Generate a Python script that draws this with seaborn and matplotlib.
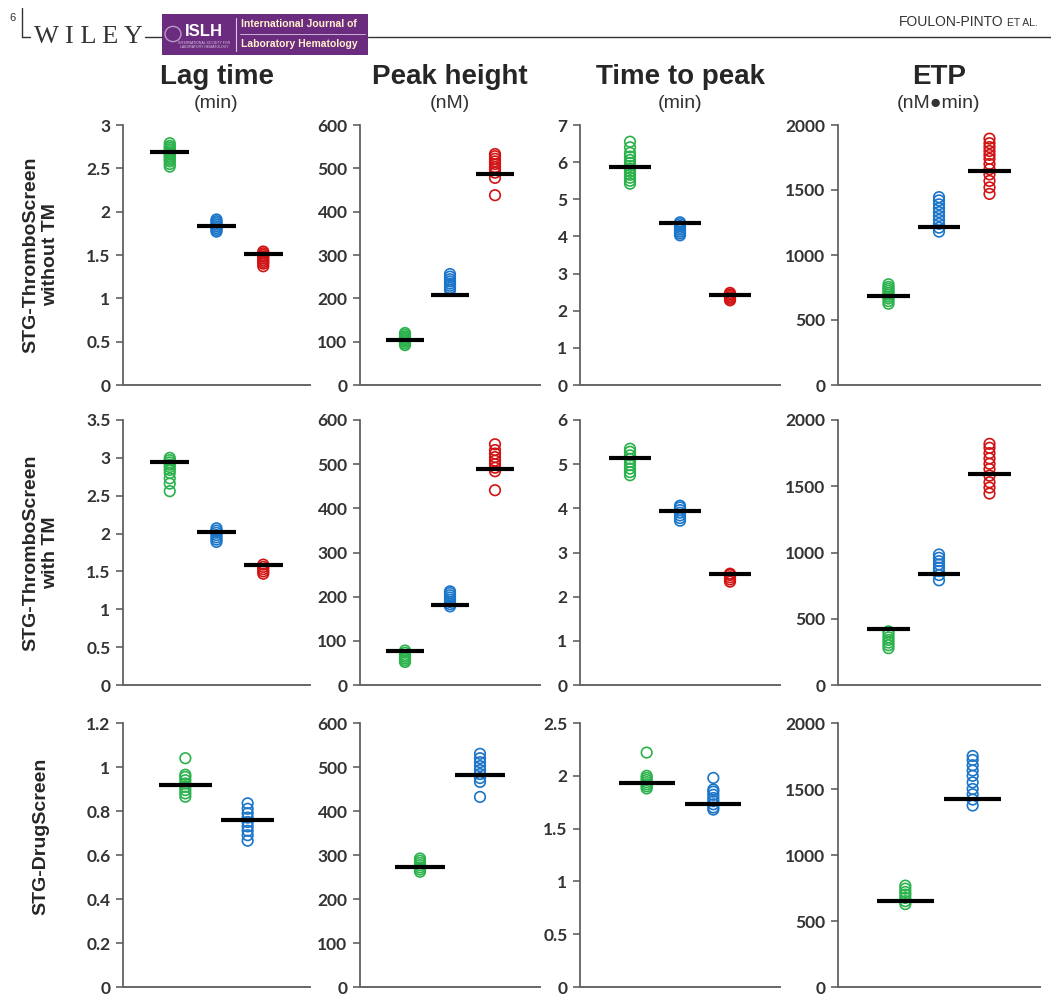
import numpy as np
import pandas as pd
import seaborn as sns
import matplotlib.pyplot as plt
from matplotlib.patches import Rectangle, Circle
from matplotlib.lines import Line2D

W, H = 1051, 999

groups = ["g1", "g2", "g3"]
colors = ["#2bb24c", "#1b75c9", "#d11313"]

col_titles = ["Lag time", "Peak height", "Time to peak", "ETP"]
col_units = ["(min)", "(nM)", "(min)", "(nM\u25cfmin)"]
row_titles = ["STG-ThromboScreen\nwithout TM", "STG-ThromboScreen\nwith TM", "STG-DrugScreen"]

# STG-ThromboScreen without TM
lag_wo = [[2.52, 2.55, 2.58, 2.60, 2.62, 2.64, 2.66, 2.68, 2.70, 2.72, 2.74, 2.76, 2.79],
          [1.77, 1.79, 1.81, 1.83, 1.85, 1.87, 1.89, 1.91],
          [1.37, 1.40, 1.42, 1.44, 1.46, 1.48, 1.50, 1.52, 1.54]]
lag_wo_mean = [2.69, 1.84, 1.51]
peak_wo = [[92, 96, 100, 103, 106, 109, 112, 116, 120],
           [219, 224, 229, 234, 239, 244, 250, 256],
           [438, 478, 490, 497, 503, 510, 516, 522, 528, 533]]
peak_wo_mean = [105, 208, 486]
ttp_wo = [[5.42, 5.50, 5.58, 5.66, 5.74, 5.82, 5.90, 5.98, 6.06, 6.15, 6.25, 6.40, 6.55],
          [4.03, 4.08, 4.13, 4.18, 4.23, 4.28, 4.33, 4.38],
          [2.28, 2.32, 2.36, 2.40, 2.44, 2.48]]
ttp_wo_mean = [5.88, 4.36, 2.41]
etp_wo = [[625, 645, 665, 680, 695, 710, 725, 740, 755, 775],
          [1180, 1210, 1240, 1270, 1300, 1330, 1360, 1390, 1420, 1445],
          [1470, 1520, 1570, 1620, 1660, 1700, 1740, 1770, 1800, 1830, 1860, 1895]]
etp_wo_mean = [685, 1219, 1644]

# STG-ThromboScreen with TM
lag_w = [[2.56, 2.66, 2.73, 2.80, 2.84, 2.88, 2.91, 2.94, 2.97, 3.00],
         [1.89, 1.92, 1.95, 1.98, 2.01, 2.04, 2.07],
         [1.47, 1.50, 1.53, 1.56, 1.59]]
lag_w_mean = [2.94, 2.02, 1.59]
peak_w = [[52, 56, 60, 64, 68, 73, 78],
          [178, 183, 188, 193, 198, 203, 208, 212],
          [441, 484, 492, 500, 508, 516, 524, 532, 545]]
peak_w_mean = [78, 182, 488]
ttp_w = [[4.75, 4.82, 4.90, 4.98, 5.05, 5.12, 5.20, 5.28, 5.35],
         [3.72, 3.78, 3.84, 3.90, 3.96, 4.02, 4.06],
         [2.34, 2.39, 2.44, 2.49, 2.52]]
ttp_w_mean = [5.14, 3.94, 2.52]
etp_w = [[278, 300, 320, 340, 360, 385, 405],
         [790, 830, 860, 885, 910, 935, 960, 985],
         [1445, 1490, 1530, 1580, 1630, 1670, 1710, 1750, 1790, 1820]]
etp_w_mean = [423, 841, 1594]

# STG-DrugScreen
lag_d = [[0.865, 0.88, 0.895, 0.91, 0.925, 0.94, 0.955, 0.965, 1.04],
         [0.665, 0.69, 0.71, 0.73, 0.75, 0.77, 0.79, 0.81, 0.835]]
lag_d_mean = [0.92, 0.758]
peak_d = [[262, 267, 272, 277, 282, 287, 292],
          [432, 466, 475, 484, 493, 502, 511, 520, 530]]
peak_d_mean = [272, 481]
ttp_d = [[1.88, 1.90, 1.92, 1.94, 1.96, 1.98, 2.00, 2.22],
         [1.68, 1.70, 1.73, 1.76, 1.79, 1.82, 1.85, 1.87, 1.98]]
ttp_d_mean = [1.935, 1.73]
etp_d = [[628, 650, 675, 700, 720, 745, 768],
         [1375, 1420, 1460, 1500, 1550, 1600, 1640, 1680, 1720, 1750]]
etp_d_mean = [655, 1428]

grid = [
    [(lag_wo, lag_wo_mean, 3, 0.5), (peak_wo, peak_wo_mean, 600, 100),
     (ttp_wo, ttp_wo_mean, 7, 1), (etp_wo, etp_wo_mean, 2000, 500)],
    [(lag_w, lag_w_mean, 3.5, 0.5), (peak_w, peak_w_mean, 600, 100),
     (ttp_w, ttp_w_mean, 6, 1), (etp_w, etp_w_mean, 2000, 500)],
    [(lag_d, lag_d_mean, 1.2, 0.2), (peak_d, peak_d_mean, 600, 100),
     (ttp_d, ttp_d_mean, 2.5, 0.5), (etp_d, etp_d_mean, 2000, 500)],
]

# pixel boxes of the axes
col_px = [(123, 310), (360, 540), (580, 780), (838, 1040)]
row_px = [(125, 385), (420, 685), (723, 987)]

sns.set_style("ticks")
plt.rcParams["font.family"] = ["Liberation Sans", "DejaVu Sans"]


def px(x, y):
    return x / W, 1 - y / H


def panel(ax, series, means, ymax, step):
    n = len(series)
    df = pd.DataFrame({"grp": [groups[i] for i, s in enumerate(series) for _ in s],
                       "val": [v for s in series for v in s]})
    sns.stripplot(data=df, x="grp", y="val", hue="grp", order=groups[:n],
                  hue_order=groups[:n], palette=colors[:n], jitter=False,
                  size=7.6, linewidth=1.2, legend=False, ax=ax)
    # open circles
    for coll in ax.collections:
        fc = coll.get_facecolors()
        coll.set_edgecolors(fc)
        coll.set_facecolors("none")
        coll.set_clip_on(False)
    xs = np.arange(n)
    ax.hlines(means, xs - 0.42, xs + 0.42, color="black", lw=3, zorder=5)
    ax.set_xlim(-1, n)
    ax.set_ylim(0, ymax)
    ticks = np.arange(0, ymax + step / 2, step)
    ax.set_yticks(ticks)
    ax.set_yticklabels([f"{round(t, 2):g}" for t in ticks],
                       fontfamily="Lato", fontweight="bold", fontsize=12.5, color="#333333")
    ax.set_xticks([])
    ax.set_xlabel("")
    ax.set_ylabel("")
    ax.tick_params(axis="y", length=5, width=1.1, color="#555555", pad=4)
    sns.despine(ax=ax)
    ax.spines["left"].set_color("#555555")
    ax.spines["bottom"].set_color("#666666")
    ax.spines["left"].set_linewidth(1.2)
    ax.spines["bottom"].set_linewidth(1.4)


fig = plt.figure(figsize=(W / 100, H / 100), dpi=100)

for r, row in enumerate(grid):
    y0, y1 = row_px[r]
    for c, (series, means, ymax, step) in enumerate(row):
        x0, x1 = col_px[c]
        ax = fig.add_axes([x0 / W, 1 - y1 / H, (x1 - x0) / W, (y1 - y0) / H])
        panel(ax, series, means, ymax, step)

# column headers
for c, (t, u) in enumerate(zip(col_titles, col_units)):
    cx = (col_px[c][0] + col_px[c][1]) / 2
    fig.text(*px(cx, 77), t, ha="center", va="center", fontsize=20, fontweight="bold")
    fig.text(*px(cx, 104), u, ha="center", va="center", fontsize=14, color="#333333")

# row headers
row_centers = [255, 553, 836]
for r, t in enumerate(row_titles):
    fig.text(*px(41, row_centers[r]), t, ha="center", va="center", rotation=90,
             fontsize=14, fontweight="bold", linespacing=1.2)

# journal header
line_kw = dict(color="#333333", lw=1.0, transform=fig.transFigure)
fig.add_artist(Line2D([px(22, 0)[0], px(22, 0)[0]], [px(0, 8)[1], px(0, 37)[1]], **line_kw))
fig.add_artist(Line2D([px(22, 0)[0], px(30, 0)[0]], [px(0, 37)[1]] * 2, **line_kw))
fig.add_artist(Line2D([px(145, 0)[0], px(162, 0)[0]], [px(0, 37)[1]] * 2, **line_kw))
fig.add_artist(Line2D([px(368, 0)[0], 1], [px(0, 37)[1]] * 2, **line_kw))
fig.text(*px(13, 18), "6", ha="center", va="center", fontsize=8, color="#333333")
fig.text(*px(88, 37), "W I L E Y", ha="center", va="center", fontsize=19,
         family="Liberation Serif", color="#333333")
bx0, by0 = px(162, 55)
fig.add_artist(Rectangle((bx0, by0), 206 / W, 41 / H, facecolor="#6b2c80",
                         edgecolor="none", transform=fig.transFigure))
fig.add_artist(Circle(px(173, 34), 8 / W, facecolor="none", edgecolor="#b89bc4",
                      lw=1, transform=fig.transFigure))
fig.text(*px(204, 31), "ISLH", ha="center", va="center", fontsize=12,
         fontweight="bold", color="white")
fig.text(*px(204, 45), "INTERNATIONAL SOCIETY FOR\nLABORATORY HEMATOLOGY", ha="center",
         va="center", fontsize=2.5, color="#d8c8e0", linespacing=1.0)
fig.add_artist(Line2D([px(236, 0)[0]] * 2, [px(0, 18)[1], px(0, 51)[1]],
                      color="#d8c8e0", lw=0.8, transform=fig.transFigure))
fig.text(*px(241, 24), "International Journal of", ha="left", va="center", fontsize=7.5,
         fontweight="bold", color="#fff2cc")
fig.add_artist(Line2D([px(240, 0)[0], px(365, 0)[0]], [px(0, 34)[1]] * 2,
                      color="#d8c8e0", lw=0.6, transform=fig.transFigure))
fig.text(*px(241, 44), "Laboratory Hematology", ha="left", va="center", fontsize=7.5,
         fontweight="bold", color="#fff2cc")
fig.text(*px(1004, 22), "FOULON-PINTO", ha="right", va="center", fontsize=10, color="#333333")
fig.text(*px(1007, 23), "ET AL.", ha="left", va="center", fontsize=7.5, color="#333333")

fig.savefig("out.png", dpi=100)
